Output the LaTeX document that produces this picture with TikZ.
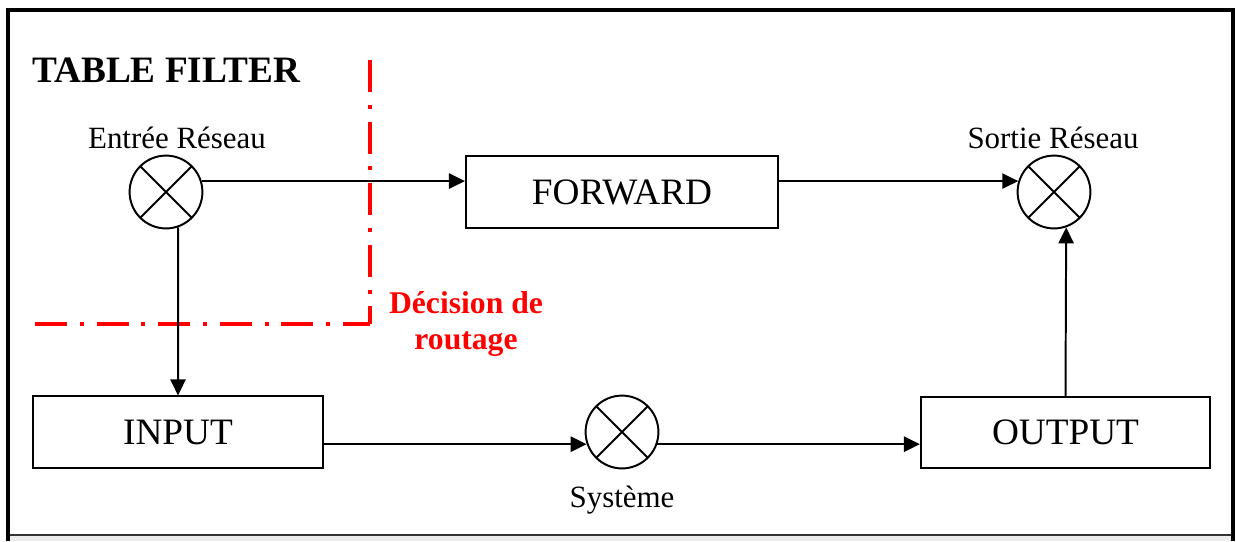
\documentclass[tikz,border=0pt]{standalone}
\usepackage{fontspec}
\setmainfont{Liberation Serif}
\usetikzlibrary{arrows.meta}

\begin{document}
\begin{tikzpicture}[x=0.025cm,y=-0.025cm,
	bloc/.style={draw=black,line width=1.4pt,minimum width=#1,minimum height=1.78cm,inner sep=0,font=\fontsize{26.5}{30}\selectfont},
	croix/.style={draw=black,circle,line width=1.4pt,minimum size=1.82cm,inner sep=0,
		path picture={\draw[line width=1.4pt] (path picture bounding box.north west) -- (path picture bounding box.south east)
			(path picture bounding box.north east) -- (path picture bounding box.south west);}},
	etiq/.style={font=\fontsize{22}{26}\selectfont,inner sep=0,anchor=base},
	fleche/.style={line width=1.4pt,-{Triangle[length=0.4cm,width=0.38cm]}},
	limite/.style={red,line width=2.8pt,dash pattern=on 0.8cm off 0.32cm on 0.1cm off 0.32cm}]
	\useasboundingbox (0,0) rectangle (1236,541);
	% cadre
	\fill[gray!15] (8,536) rectangle (1233,541);
	\draw[line width=0.9pt,black!80] (8,535) -- (1233,535);
	\draw[line width=3pt] (8,541) -- (8,10) -- (1233,10) -- (1233,541);
	% limite de la table filter
	\draw[limite] (370,60) -- (370,324);
	\draw[limite] (35,324) -- (370,324);
	\begin{scope}
		\node[font=\fontsize{26.5}{30}\selectfont\bfseries,inner sep=0,anchor=base west] (titre) at (32,82) {TABLE FILTER};
		\node[croix] (entree) at (166,192) {};
		\node[croix] (sortie) at (1054,192) {};
		\node[croix] (systeme) at (622,432) {};
		\node[bloc=7.8cm] (forward) at (622,192) {FORWARD};
		\node[bloc=7.25cm] (input) at (178,432) {INPUT};
		\node[bloc=7.23cm] (output) at (1065.5,432.5) {OUTPUT};
		\node[etiq] (lentree) at (177,148) {Entrée Réseau};
		\node[etiq] (lsortie) at (1053,148) {Sortie Réseau};
		\node[etiq] (lsysteme) at (622,507) {Système};
		\node[red,font=\fontsize{22.5}{25}\selectfont\bfseries,align=center,inner sep=0] (decision) at (466,324) {Décision de\\routage};
	\end{scope}
	\path [fleche](entree.17) edge (entree.17 -| forward.west);
	\path [fleche](forward.east |- sortie.163) edge (sortie.163);
	\path [fleche](entree.-71) edge (input.north);
	\path [fleche](input.east |- systeme.-161) edge (systeme.-161);
	\path [fleche](systeme.-19) edge (systeme.-19 -| output.west);
	\path [fleche](output.north) edge (sortie.-71);
\end{tikzpicture}
\end{document}
